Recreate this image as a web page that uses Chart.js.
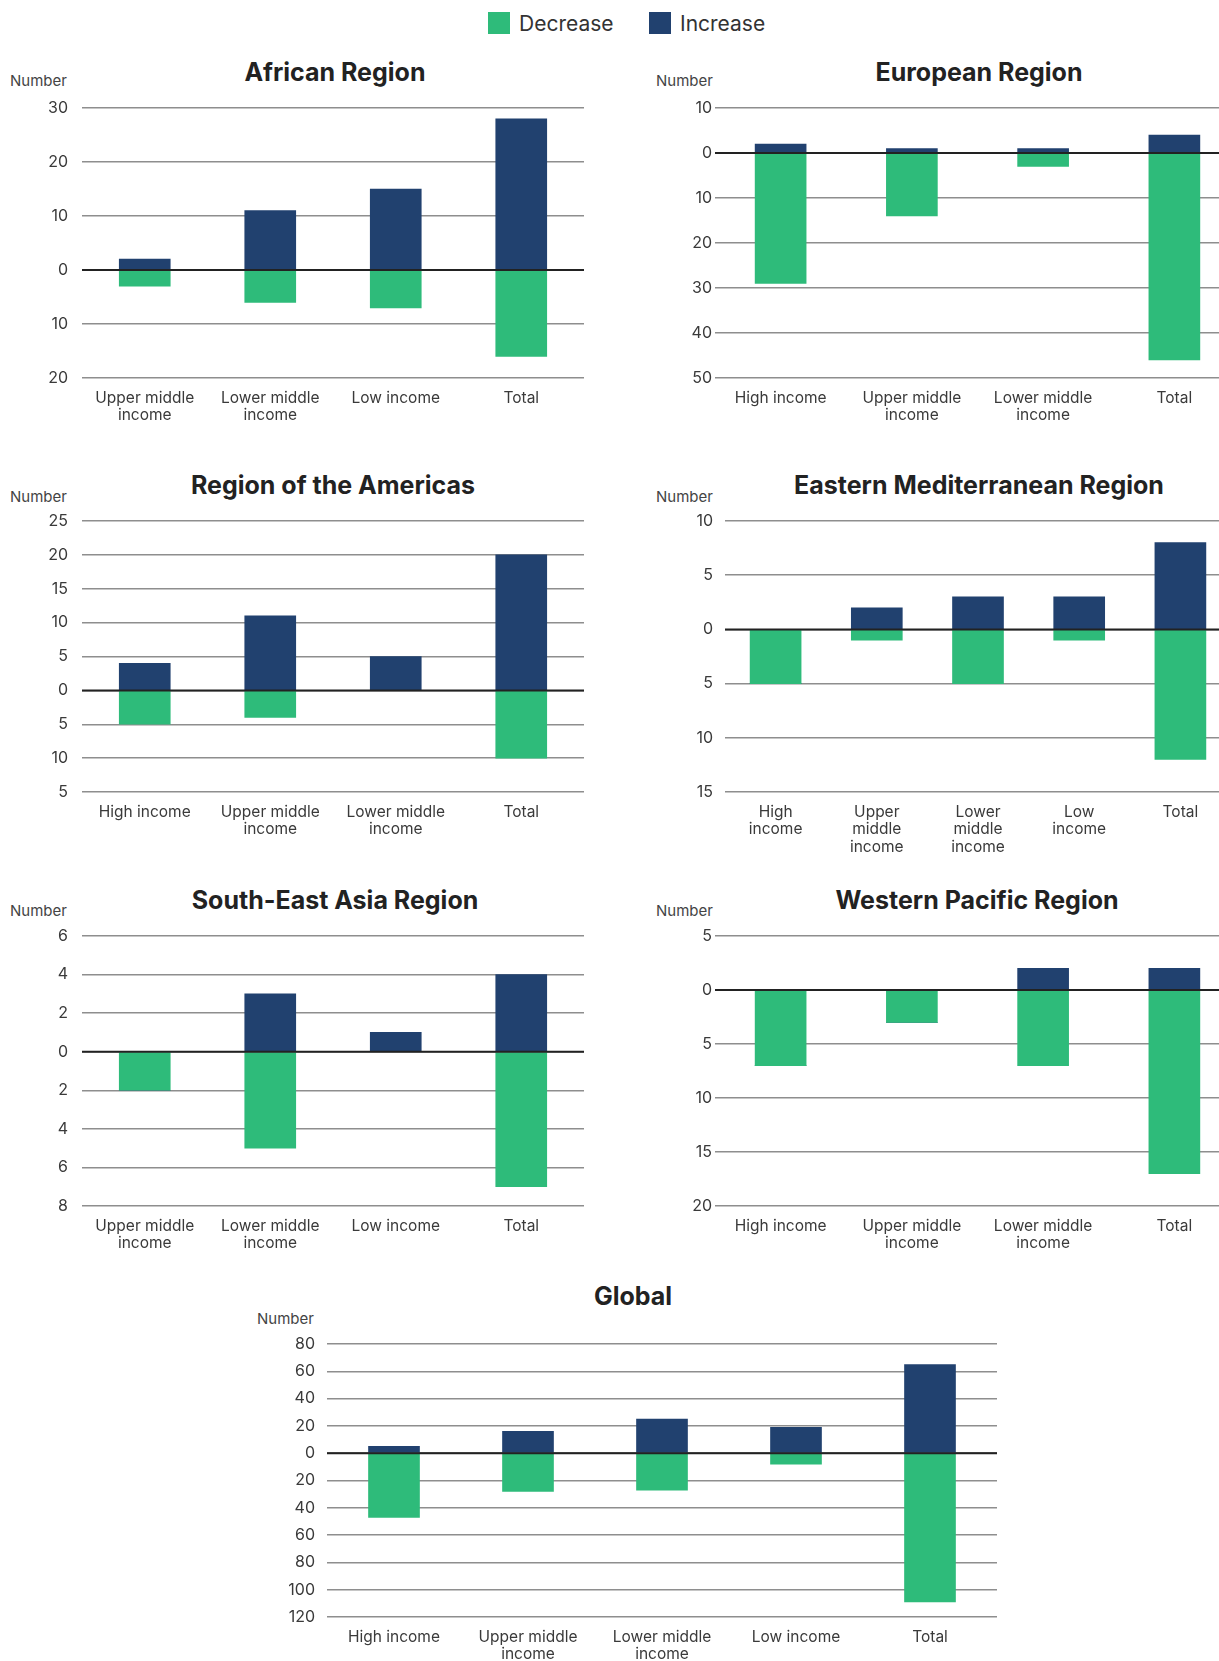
<!DOCTYPE html>
<html>
<head>
<meta charset="utf-8">
<script src="https://cdn.jsdelivr.net/npm/chart.js@4.4.1/dist/chart.umd.min.js"></script>
<style>
  html, body { margin: 0; padding: 0; background: #fff; }
  #page { position: relative; width: 1219px; height: 1661px; overflow: hidden;
          font-family: Inter, "Noto Sans", sans-serif; color: #333; }
  .box { position: absolute; }
  .title { position: absolute; font-weight: 700; font-size: 25px; color: #222;
           transform: translate(-50%, -50%); white-space: nowrap; }
  .unit { position: absolute; font-size: 15px; color: #444; transform: translateY(-50%); }
  .swatch { position: absolute; width: 22px; height: 22px; top: 12px; }
  .legtext { position: absolute; top: 23px; font-size: 21px; color: #333; transform: translateY(-50%); }
</style>
</head>
<body>
<div id="page">
  <div class="swatch" style="left:488px;background:#2ebb7a"></div>
  <div class="legtext" style="left:519px">Decrease</div>
  <div class="swatch" style="left:649px;background:#21416f"></div>
  <div class="legtext" style="left:680px">Increase</div>

  <div class="title" style="left:335px;top:72px">African Region</div>
  <div class="unit" style="left:10px;top:80px">Number</div>
  <div class="box" style="left:0;top:84px;width:600px;height:364px"><canvas id="afr"></canvas></div>

  <div class="title" style="left:979px;top:72px">European Region</div>
  <div class="unit" style="left:656px;top:80px">Number</div>
  <div class="box" style="left:600px;top:84px;width:645px;height:364px"><canvas id="eur"></canvas></div>

  <div class="title" style="left:333px;top:485px">Region of the Americas</div>
  <div class="unit" style="left:10px;top:496px">Number</div>
  <div class="box" style="left:0;top:497px;width:600px;height:365px"><canvas id="amr"></canvas></div>

  <div class="title" style="left:979px;top:485px">Eastern Mediterranean Region</div>
  <div class="unit" style="left:656px;top:496px">Number</div>
  <div class="box" style="left:600px;top:497px;width:645px;height:365px"><canvas id="emr"></canvas></div>

  <div class="title" style="left:335px;top:900px">South-East Asia Region</div>
  <div class="unit" style="left:10px;top:910px">Number</div>
  <div class="box" style="left:0;top:912px;width:600px;height:364px"><canvas id="sear"></canvas></div>

  <div class="title" style="left:977px;top:900px">Western Pacific Region</div>
  <div class="unit" style="left:656px;top:910px">Number</div>
  <div class="box" style="left:600px;top:912px;width:645px;height:364px"><canvas id="wpr"></canvas></div>

  <div class="title" style="left:633px;top:1296px">Global</div>
  <div class="unit" style="left:257px;top:1318px">Number</div>
  <div class="box" style="left:200px;top:1320px;width:820px;height:367px"><canvas id="glob"></canvas></div>
</div>

<script>
// ---- data ----
const afrCats  = [["Upper middle", "income"], ["Lower middle", "income"], "Low income", "Total"];
const afrDec   = [-3, -6, -7, -16];
const afrInc   = [2, 11, 15, 28];
const afrTicks = [30, 20, 10, 0, -10, -20];
const afrTickLabels = ["30", "20", "10", "0", "10", "20"];

const eurCats  = ["High income", ["Upper middle", "income"], ["Lower middle", "income"], "Total"];
const eurDec   = [-29, -14, -3, -46];
const eurInc   = [2, 1, 1, 4];
const eurTicks = [10, 0, -10, -20, -30, -40, -50];
const eurTickLabels = ["10", "0", "10", "20", "30", "40", "50"];

const amrCats  = ["High income", ["Upper middle", "income"], ["Lower middle", "income"], "Total"];
const amrDec   = [-5, -4, 0, -10];
const amrInc   = [4, 11, 5, 20];
const amrTicks = [25, 20, 15, 10, 5, 0, -5, -10, -15];
const amrTickLabels = ["25", "20", "15", "10", "5", "0", "5", "10", "5"];

const emrCats  = [["High", "income"], ["Upper", "middle", "income"], ["Lower", "middle", "income"], ["Low", "income"], "Total"];
const emrDec   = [-5, -1, -5, -1, -12];
const emrInc   = [0, 2, 3, 3, 8];
const emrTicks = [10, 5, 0, -5, -10, -15];
const emrTickLabels = ["10", "5", "0", "5", "10", "15"];

const searCats  = [["Upper middle", "income"], ["Lower middle", "income"], "Low income", "Total"];
const searDec   = [-2, -5, 0, -7];
const searInc   = [0, 3, 1, 4];
const searTicks = [6, 4, 2, 0, -2, -4, -6, -8];
const searTickLabels = ["6", "4", "2", "0", "2", "4", "6", "8"];

const wprCats  = ["High income", ["Upper middle", "income"], ["Lower middle", "income"], "Total"];
const wprDec   = [-7, -3, -7, -17];
const wprInc   = [0, 0, 2, 2];
const wprTicks = [5, 0, -5, -10, -15, -20];
const wprTickLabels = ["5", "0", "5", "10", "15", "20"];

const globCats  = ["High income", ["Upper middle", "income"], ["Lower middle", "income"], "Low income", "Total"];
const globDec   = [-47, -28, -27, -8, -109];
const globInc   = [5, 16, 25, 19, 65];
const globTicks = [80, 60, 40, 20, 0, -20, -40, -60, -80, -100, -120];
const globTickLabels = ["80", "60", "40", "20", "0", "20", "40", "60", "80", "100", "120"];

const GREEN = "#2ebb7a";
const NAVY  = "#21416f";

Chart.defaults.font.family = "Inter, 'Noto Sans', sans-serif";
Chart.defaults.color = "#3a3a3a";

// black zero line drawn over the bars
const zeroLine = {
    id: "zeroLine",
    afterDatasetsDraw(chart) {
        const y = chart.scales.y.getPixelForValue(0);
        const { left, right } = chart.chartArea;
        const c = chart.ctx;
        c.save();
        c.strokeStyle = "#222";
        c.lineWidth = 2;
        c.beginPath();
        c.moveTo(left, y);
        c.lineTo(right, y);
        c.stroke();
        c.restore();
    }
};

function makeChart(id, cats, dec, inc, ticks, tickLabels, yWidth, padRight, tickPad) {
    new Chart(document.getElementById(id), {
        type: "bar",
        data: {
            labels: cats,
            datasets: [
                { label: "Decrease", data: dec, backgroundColor: GREEN, barThickness: 51 },
                { label: "Increase", data: inc, backgroundColor: NAVY, barThickness: 51 },
            ]
        },
        options: {
            responsive: true,
            maintainAspectRatio: false,
            animation: false,
            layout: { padding: { top: 24, right: padRight, bottom: 0, left: 0 } },
            plugins: { legend: { display: false }, tooltip: { enabled: false } },
            scales: {
                x: {
                    stacked: true,
                    grid: { display: false },
                    border: { display: false },
                    ticks: {
                        autoSkip: false, maxRotation: 0, minRotation: 0, padding: 3,
                        font: { size: 15.5, lineHeight: 1.15 }, color: "#3a3a3a"
                    },
                    afterFit: s => { s.height = 70; }
                },
                y: {
                    stacked: true,
                    min: ticks[ticks.length - 1],
                    max: ticks[0],
                    grid: {
                        drawTicks: false,
                        color: "#8e8e8e",
                        lineWidth: 1.5
                    },
                    border: { display: false },
                    ticks: {
                        stepSize: ticks[0] - ticks[1],
                        padding: tickPad,
                        font: { size: 16 },
                        color: "#3a3a3a",
                        callback: v => {
                            const i = ticks.indexOf(v);
                            return i >= 0 ? tickLabels[i] : "";
                        }
                    },
                    afterFit: s => { s.width = yWidth; }
                }
            }
        },
        plugins: [zeroLine]
    });
}

makeChart("afr",  afrCats,  afrDec,  afrInc,  afrTicks,  afrTickLabels,  82, 16, 14);
makeChart("eur",  eurCats,  eurDec,  eurInc,  eurTicks,  eurTickLabels,  115, 5, 3);
makeChart("amr",  amrCats,  amrDec,  amrInc,  amrTicks,  amrTickLabels,  82, 16, 14);
makeChart("emr",  emrCats,  emrDec,  emrInc,  emrTicks,  emrTickLabels,  125, 14, 12);
makeChart("sear", searCats, searDec, searInc, searTicks, searTickLabels, 82, 16, 14);
makeChart("wpr",  wprCats,  wprDec,  wprInc,  wprTicks,  wprTickLabels,  115, 5, 3);
makeChart("glob", globCats, globDec, globInc, globTicks, globTickLabels, 127, 23, 12);
</script>
</body>
</html>
